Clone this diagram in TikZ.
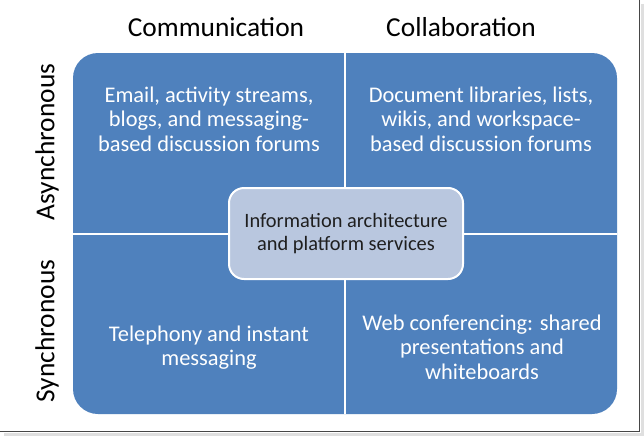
\documentclass[tikz,border=0pt]{standalone}
\usepackage{fontspec}
\setmainfont{Carlito}
\definecolor{qblue}{HTML}{4F81BD}
\definecolor{cfill}{HTML}{B9C7DF}
\begin{document}
\begin{tikzpicture}[x=1pt,y=-1pt,
  header/.style={text=black, font=\fontsize{27.4}{30}\selectfont, inner sep=0pt},
  quad/.style={text=white, align=center, font=\fontsize{22.4}{24.5}\selectfont, inner sep=0pt},
  divider/.style={draw=white, line width=2pt}]
\useasboundingbox (0,0) rectangle (644,436);
\fill[white] (0,0) rectangle (644,436);
% screenshot frame and shadow
\draw[gray!25, line width=3pt] (642,4) -- (642,434) -- (4,434);
\draw[gray!55!black, line width=1pt] (639.5,0) -- (639.5,431.5) -- (0,431.5);
% main box
\node[fill=qblue, rounded corners=25pt, minimum width=544pt, minimum height=361pt, inner sep=0pt] (box) at (345,233.5) {};
\draw[divider] (box.north) -- (box.south);
\draw[divider] (box.west) -- (box.east);
% center box
\node[fill=cfill, draw=white, line width=2pt, rounded corners=15pt, minimum width=234pt, minimum height=91pt, align=center, inner sep=0pt, text=black!88, font=\fontsize{20.4}{23}\selectfont] (core) at (346,233.5) {Information architecture\\and platform services};
% headers
\node[header] (comm) at (216,27) {Communication};
\node[header] (coll) at (461,27) {Collaboration};
\node[header, rotate=90] (async) at (47,142) {Asynchronous};
\node[header, rotate=90] (sync) at (47,331) {Synchronous};
% quadrant texts
\node[quad] (tl) at (209,119) {Email, activity streams,\\blogs, and messaging-\\based discussion forums};
\node[quad] (tr) at (481,119) {Document libraries, lists,\\wikis, and workspace-\\based discussion forums};
\node[quad] (bl) at (209,347.5) {Telephony and instant\\messaging};
\node[quad] (br) at (482,347) {Web conferencing: shared\\presentations and\\whiteboards};
\end{tikzpicture}
\end{document}
